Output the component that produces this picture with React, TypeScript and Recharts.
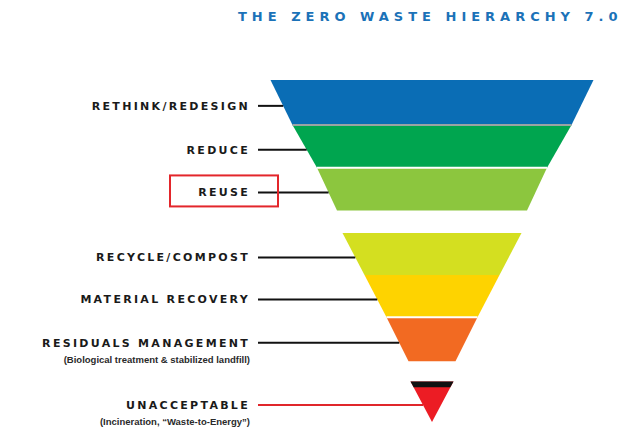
import { ComposedChart, Area, XAxis, YAxis, ReferenceLine } from "recharts";

const title = "THE ZERO WASTE HIERARCHY 7.0";

const levels = [
  "RETHINK/REDESIGN",
  "REDUCE",
  "REUSE",
  "RECYCLE/COMPOST",
  "MATERIAL RECOVERY",
  "RESIDUALS MANAGEMENT",
  "UNACCEPTABLE",
];
const notes = [
  "",
  "",
  "",
  "",
  "",
  "(Biological treatment & stabilized landfill)",
  "(Incineration, \u201cWaste-to-Energy\u201d)",
];
const colors = ["#0a6db5", "#00a54f", "#8cc63e", "#d4df20", "#fed300", "#f26a22", "#ec1c24"];

// funnel widths at the top and bottom of each level
const topWidth = [323, 279, 230, 179, 135, 91, 43];
const bottomWidth = [279, 230, 190, 135, 91, 47, 0];
// depth of each level (0 = top of the pyramid)
const levelTop = [0, 1.05, 2.05, 3.58, 4.56, 5.55, 7.05];
const levelBottom = [1.05, 2.05, 3.05, 4.56, 5.55, 6.58, 8];
const highlighted = "REUSE";

const capDepth = 0.14;
const labelShift = 0.08;

const rows: any[] = [];
levels.forEach((_, i) => {
  rows.push({ d: levelTop[i], ["l" + i]: [-topWidth[i] / 2, topWidth[i] / 2] });
  rows.push({ d: levelBottom[i], ["l" + i]: [-bottomWidth[i] / 2, bottomWidth[i] / 2] });
});
const last = levels.length - 1;
const capWidth =
  topWidth[last] -
  ((topWidth[last] - bottomWidth[last]) * capDepth) / (levelBottom[last] - levelTop[last]);
rows.push({ d: levelTop[last], cap: [-topWidth[last] / 2, topWidth[last] / 2] });
rows.push({ d: levelTop[last] + capDepth, cap: [-capWidth / 2, capWidth / 2] });

const labelDepth = levels.map((_, i) => (levelTop[i] + levelBottom[i]) / 2 + labelShift);
const edgeAt = (i: number) => {
  const t = (labelDepth[i] - levelTop[i]) / (levelBottom[i] - levelTop[i]);
  return (topWidth[i] + (bottomWidth[i] - topWidth[i]) * t) / 2;
};

const LevelTick = (props: any) => {
  const { x, y, index } = props;
  const name = levels[index];
  const note = notes[index];
  return (
    <g>
      {name === highlighted && (
        <rect x={x - 80} y={y - 17} width={108} height={31} fill="none" stroke="#e3262b" strokeWidth={2} />
      )}
      <text
        x={x}
        y={y}
        dy="0.35em"
        textAnchor="end"
        fontFamily="DejaVu Sans"
        fontWeight={700}
        fontSize={11}
        letterSpacing={2.3}
        fill="#1a1a1a"
      >
        {name}
      </text>
      {note && (
        <text
          x={x}
          y={y + 17}
          dy="0.35em"
          textAnchor="end"
          fontFamily="Liberation Sans"
          fontWeight={700}
          fontSize={9.5}
          fill="#2a2a2a"
        >
          {note}
        </text>
      )}
    </g>
  );
};

export default function App() {
  return (
    <div style={{ position: "absolute", left: 0, top: 0, width: 623, height: 437, background: "#fff" }}>
      <div
        style={{
          position: "absolute",
          left: 238,
          top: 9,
          fontFamily: "DejaVu Sans",
          fontWeight: 700,
          fontSize: 13,
          lineHeight: "15px",
          letterSpacing: 5,
          color: "#1b72b8",
          whiteSpace: "nowrap",
        }}
      >
        {title}
      </div>
      <ComposedChart
        width={623}
        height={437}
        data={rows}
        layout="vertical"
        margin={{ top: 80, right: 14, bottom: 15, left: 0 }}
      >
        <XAxis type="number" domain={[-177, 177]} hide />
        <YAxis
          type="number"
          dataKey="d"
          domain={[0, 8]}
          ticks={labelDepth}
          interval={0}
          width={255}
          axisLine={false}
          tickLine={false}
          tickSize={0}
          tickMargin={5}
          tick={(p: any) => <LevelTick {...p} />}
        />
        {levels.map((_, i) => (
          <Area
            key={i}
            dataKey={"l" + i}
            type="linear"
            fill={colors[i]}
            fillOpacity={1}
            stroke="none"
            connectNulls
            dot={false}
            activeDot={false}
            isAnimationActive={false}
          />
        ))}
        <Area
          dataKey="cap"
          type="linear"
          fill="#111"
          fillOpacity={1}
          stroke="none"
          connectNulls
          dot={false}
          activeDot={false}
          isAnimationActive={false}
        />
        {[0, 1, 4].map((i) => (
          <ReferenceLine
            key={"s" + i}
            ifOverflow="visible"
            stroke={i === 0 ? "#9aa3a3" : "#ffffff"}
            strokeWidth={2}
            segment={[
              { x: -bottomWidth[i] / 2, y: levelBottom[i] },
              { x: bottomWidth[i] / 2, y: levelBottom[i] },
            ]}
          />
        ))}
        {levels.map((_, i) => (
          <ReferenceLine
            key={"k" + i}
            ifOverflow="visible"
            stroke={i === last ? "#e0262b" : "#111"}
            strokeWidth={2}
            segment={[
              { x: -174, y: labelDepth[i] },
              { x: -edgeAt(i), y: labelDepth[i] },
            ]}
          />
        ))}
      </ComposedChart>
    </div>
  );
}
